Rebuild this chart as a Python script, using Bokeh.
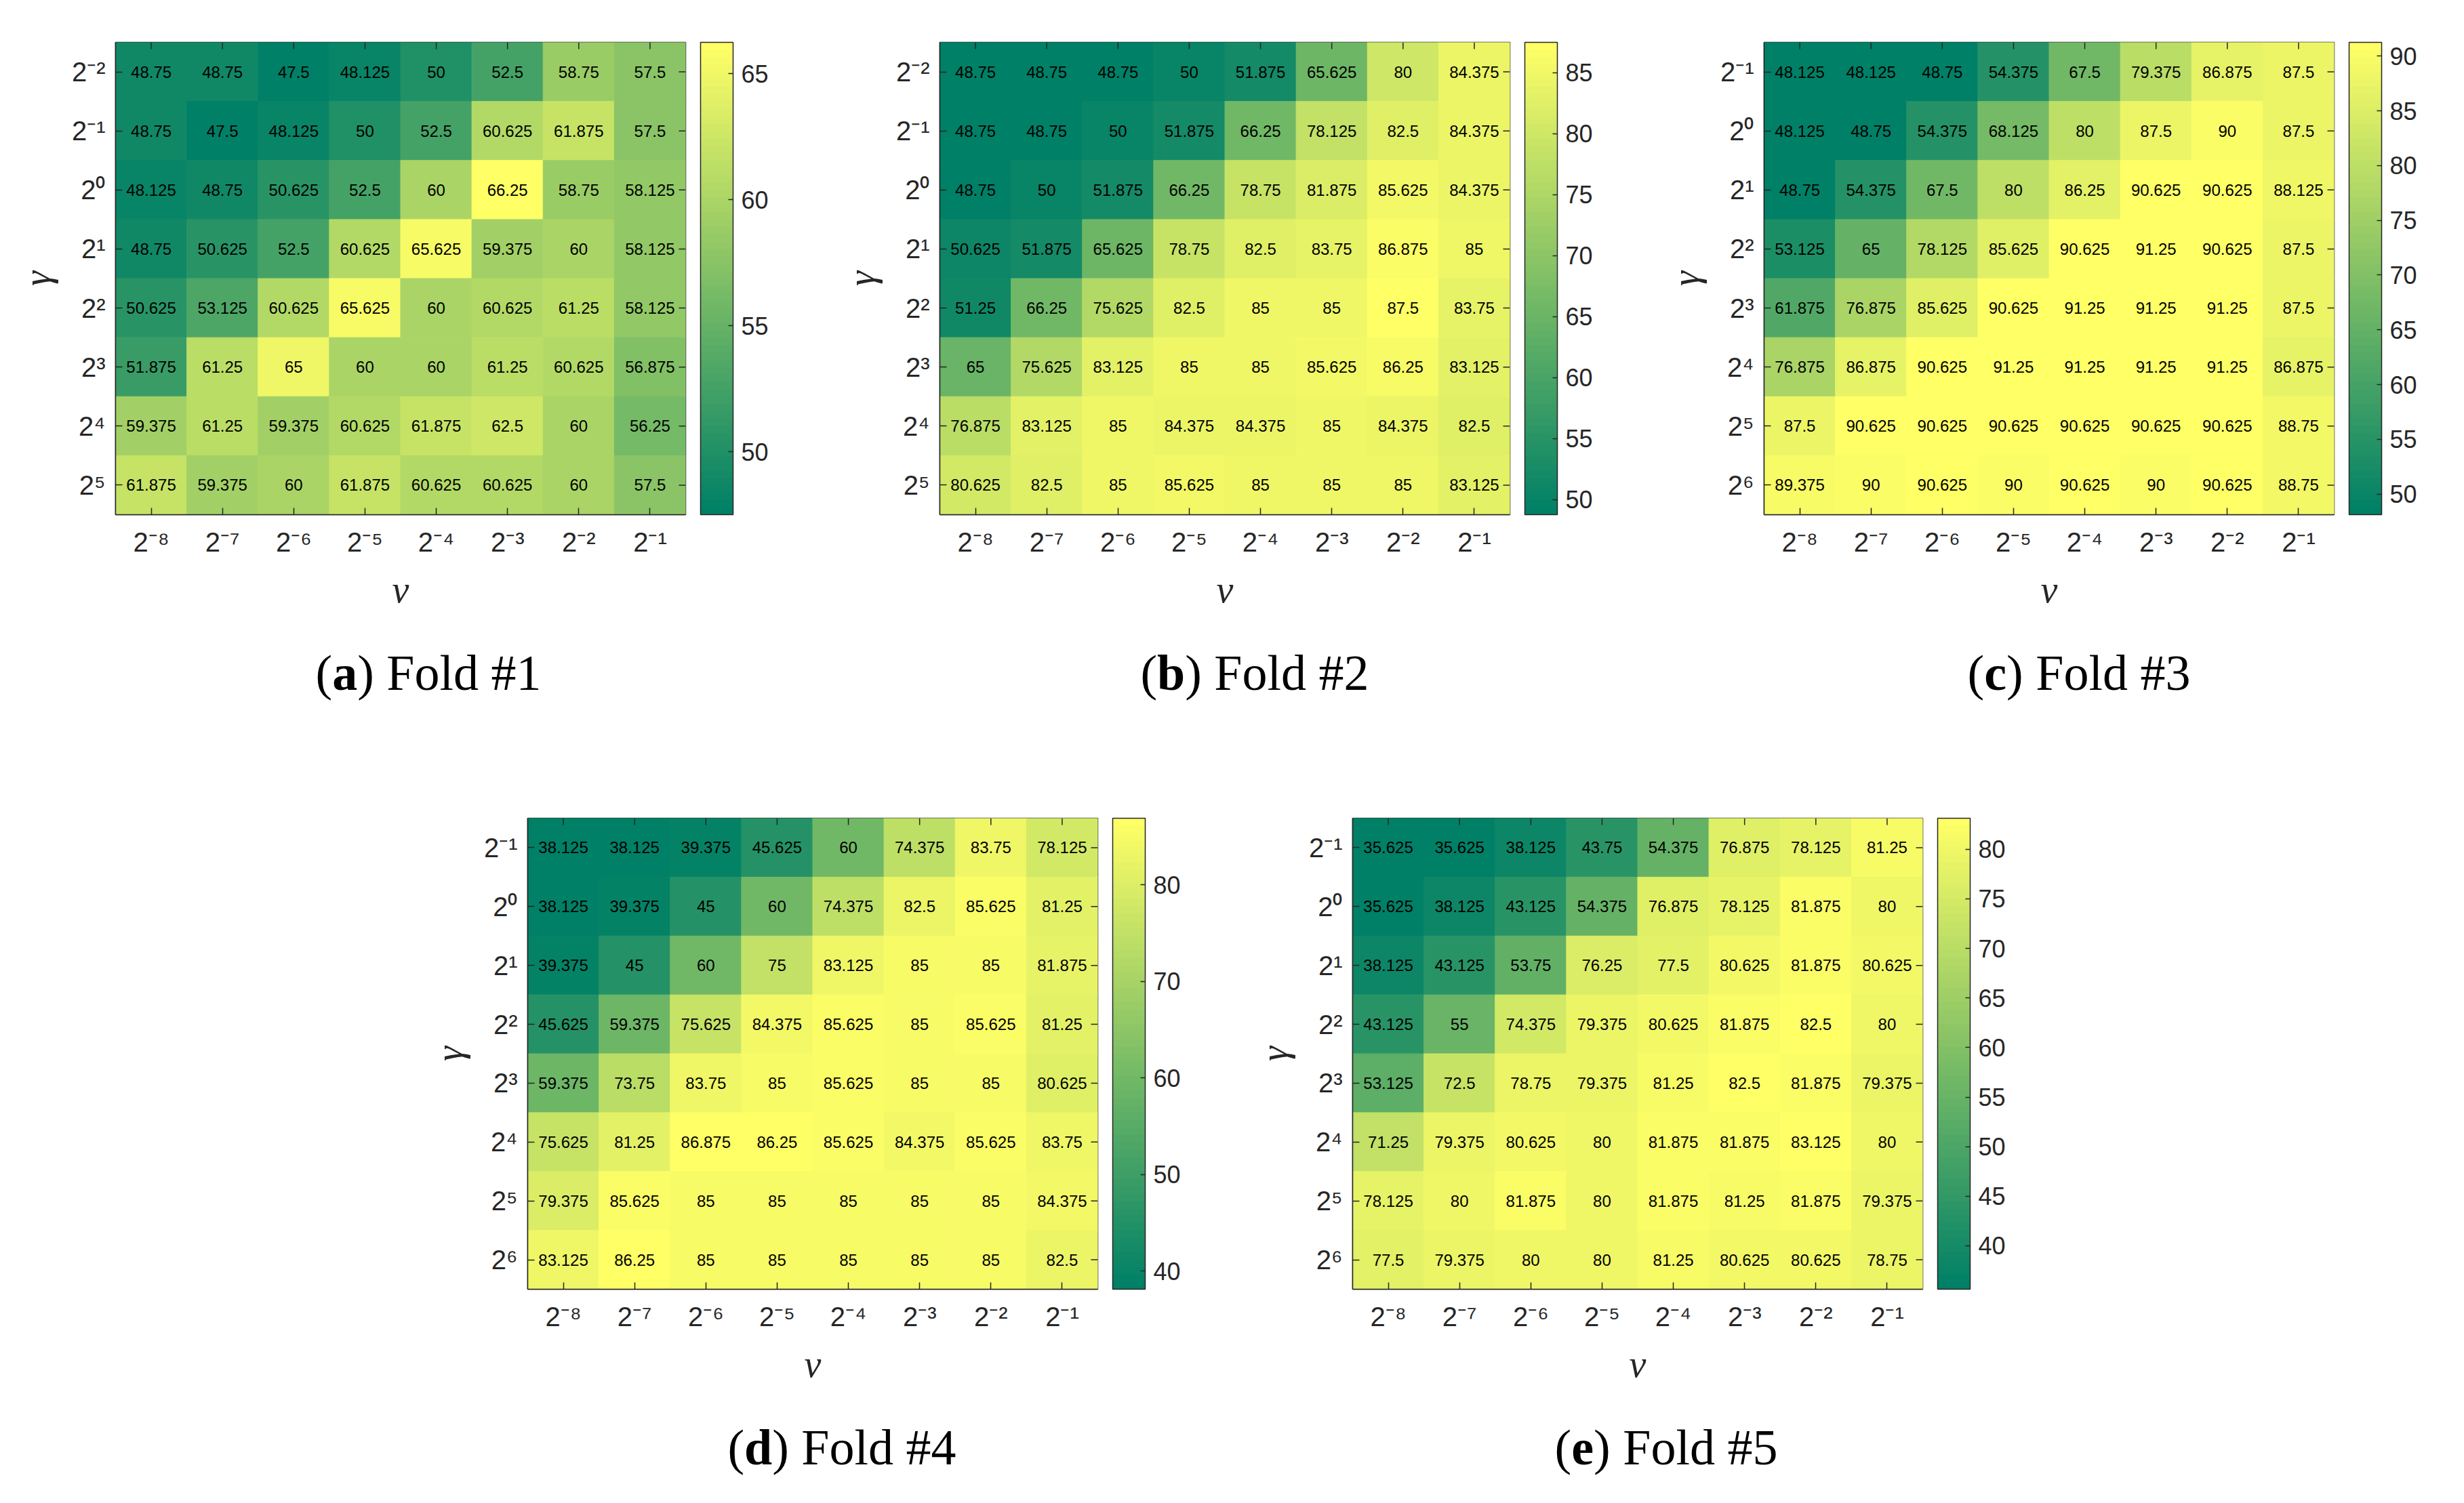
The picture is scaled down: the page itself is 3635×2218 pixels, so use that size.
import numpy as np
from bokeh.plotting import figure
from bokeh.models import (ColumnDataSource, LinearColorMapper, ColorBar, FixedTicker,
                          Div, Spacer)
from bokeh.layouts import column, row
from bokeh.embed import file_html
from bokeh.resources import INLINE
from bokeh.core.properties import value

# ---------------- data ----------------
nu_labels = ["2⁻⁸", "2⁻⁷", "2⁻⁶", "2⁻⁵", "2⁻⁴", "2⁻³", "2⁻²", "2⁻¹"]
gamma_labels_ab = ["2⁻²", "2⁻¹", "2⁰", "2¹", "2²", "2³", "2⁴", "2⁵"]
gamma_labels_cde = ["2⁻¹", "2⁰", "2¹", "2²", "2³", "2⁴", "2⁵", "2⁶"]

fold1 = [
    [48.75, 48.75, 47.5, 48.125, 50, 52.5, 58.75, 57.5],
    [48.75, 47.5, 48.125, 50, 52.5, 60.625, 61.875, 57.5],
    [48.125, 48.75, 50.625, 52.5, 60, 66.25, 58.75, 58.125],
    [48.75, 50.625, 52.5, 60.625, 65.625, 59.375, 60, 58.125],
    [50.625, 53.125, 60.625, 65.625, 60, 60.625, 61.25, 58.125],
    [51.875, 61.25, 65, 60, 60, 61.25, 60.625, 56.875],
    [59.375, 61.25, 59.375, 60.625, 61.875, 62.5, 60, 56.25],
    [61.875, 59.375, 60, 61.875, 60.625, 60.625, 60, 57.5],
]
fold2 = [
    [48.75, 48.75, 48.75, 50, 51.875, 65.625, 80, 84.375],
    [48.75, 48.75, 50, 51.875, 66.25, 78.125, 82.5, 84.375],
    [48.75, 50, 51.875, 66.25, 78.75, 81.875, 85.625, 84.375],
    [50.625, 51.875, 65.625, 78.75, 82.5, 83.75, 86.875, 85],
    [51.25, 66.25, 75.625, 82.5, 85, 85, 87.5, 83.75],
    [65, 75.625, 83.125, 85, 85, 85.625, 86.25, 83.125],
    [76.875, 83.125, 85, 84.375, 84.375, 85, 84.375, 82.5],
    [80.625, 82.5, 85, 85.625, 85, 85, 85, 83.125],
]
fold3 = [
    [48.125, 48.125, 48.75, 54.375, 67.5, 79.375, 86.875, 87.5],
    [48.125, 48.75, 54.375, 68.125, 80, 87.5, 90, 87.5],
    [48.75, 54.375, 67.5, 80, 86.25, 90.625, 90.625, 88.125],
    [53.125, 65, 78.125, 85.625, 90.625, 91.25, 90.625, 87.5],
    [61.875, 76.875, 85.625, 90.625, 91.25, 91.25, 91.25, 87.5],
    [76.875, 86.875, 90.625, 91.25, 91.25, 91.25, 91.25, 86.875],
    [87.5, 90.625, 90.625, 90.625, 90.625, 90.625, 90.625, 88.75],
    [89.375, 90, 90.625, 90, 90.625, 90, 90.625, 88.75],
]
fold4 = [
    [38.125, 38.125, 39.375, 45.625, 60, 74.375, 83.75, 78.125],
    [38.125, 39.375, 45, 60, 74.375, 82.5, 85.625, 81.25],
    [39.375, 45, 60, 75, 83.125, 85, 85, 81.875],
    [45.625, 59.375, 75.625, 84.375, 85.625, 85, 85.625, 81.25],
    [59.375, 73.75, 83.75, 85, 85.625, 85, 85, 80.625],
    [75.625, 81.25, 86.875, 86.25, 85.625, 84.375, 85.625, 83.75],
    [79.375, 85.625, 85, 85, 85, 85, 85, 84.375],
    [83.125, 86.25, 85, 85, 85, 85, 85, 82.5],
]
fold5 = [
    [35.625, 35.625, 38.125, 43.75, 54.375, 76.875, 78.125, 81.25],
    [35.625, 38.125, 43.125, 54.375, 76.875, 78.125, 81.875, 80],
    [38.125, 43.125, 53.75, 76.25, 77.5, 80.625, 81.875, 80.625],
    [43.125, 55, 74.375, 79.375, 80.625, 81.875, 82.5, 80],
    [53.125, 72.5, 78.75, 79.375, 81.25, 82.5, 81.875, 79.375],
    [71.25, 79.375, 80.625, 80, 81.875, 81.875, 83.125, 80],
    [78.125, 80, 81.875, 80, 81.875, 81.25, 81.875, 79.375],
    [77.5, 79.375, 80, 80, 81.25, 80.625, 80.625, 78.75],
]
cbar_ticks_1 = [50, 55, 60, 65]
cbar_ticks_2 = [50, 55, 60, 65, 70, 75, 80, 85]
cbar_ticks_3 = [50, 55, 60, 65, 70, 75, 80, 85, 90]
cbar_ticks_4 = [40, 50, 60, 70, 80]
cbar_ticks_5 = [40, 45, 50, 55, 60, 65, 70, 75, 80]
caption_tags = ["a", "b", "c", "d", "e"]
caption_texts = ["Fold #1", "Fold #2", "Fold #3", "Fold #4", "Fold #5"]

# ---------------- style ----------------
SANS = "Liberation Sans"
SERIF = "Liberation Serif"
INK = "#262626"
FRAME_W = 841
TICK_LEN = 10
CBAR_GAP = 22


def summer_palette(n=64):
    out = []
    for k in range(n):
        r = k / (n - 1)
        out.append("#%02x%02x%02x" % (round(255 * r), round(255 * (0.5 + 0.5 * r)), round(255 * 0.4)))
    return out


PAL = summer_palette(64)


def make_panel(data, ylabels, ticks, frame_h, border_right):
    xf = list(nu_labels)
    yf = list(ylabels)
    xs, ys, vs, ts = [], [], [], []
    for i, r in enumerate(data):
        for j, v in enumerate(r):
            xs.append(xf[j]); ys.append(yf[i]); vs.append(v); ts.append(f"{v:g}")
    src = ColumnDataSource(dict(x=xs, y=ys, v=vs, t=ts))
    mapper = LinearColorMapper(palette=PAL, low=min(vs), high=max(vs))
    p = figure(x_range=xf, y_range=yf[::-1], frame_width=FRAME_W, frame_height=frame_h,
               min_border_left=162, min_border_right=border_right, min_border_top=54,
               min_border_bottom=171, output_backend="svg", toolbar_location=None, tools="")
    p.rect(x="x", y="y", width=1, height=1, source=src,
           fill_color={"field": "v", "transform": mapper},
           line_color={"field": "v", "transform": mapper}, line_width=1)
    p.text(x="x", y="y", text="t", source=src, text_align="center", text_baseline="middle",
           text_font=value(SANS), text_font_size="24px", text_color="black")

    # inward ticks on the top and right edges of the box
    cw = FRAME_W / len(xf)
    ch = frame_h / len(yf)
    top = yf[0]
    rgt = xf[-1]
    tk = dict(
        x0=[[f, 0.0] for f in xf] + [[rgt, 0.5] for _ in yf],
        x1=[[f, 0.0] for f in xf] + [[rgt, 0.5 - TICK_LEN / cw] for _ in yf],
        y0=[[top, 0.5] for _ in xf] + [[f, 0.0] for f in yf],
        y1=[[top, 0.5 - TICK_LEN / ch] for _ in xf] + [[f, 0.0] for f in yf],
    )
    p.segment(x0="x0", y0="y0", x1="x1", y1="y1", source=ColumnDataSource(tk),
              line_color=INK, line_width=1.5)

    p.grid.visible = False
    p.outline_line_color = INK
    p.outline_line_width = 1.5
    for ax in (p.xaxis[0], p.yaxis[0]):
        ax.major_label_text_font = SANS
        ax.major_label_text_font_size = "40px"
        ax.major_label_text_color = INK
        ax.major_tick_in = TICK_LEN
        ax.major_tick_out = 0
        ax.major_tick_line_color = INK
        ax.major_tick_line_width = 1.5
        ax.axis_line_color = INK
        ax.axis_line_width = 1.5
        ax.axis_label_text_font = SERIF
        ax.axis_label_text_font_style = "italic"
        ax.axis_label_text_font_size = "56px"
        ax.axis_label_text_color = INK
    p.xaxis.major_label_standoff = 18
    p.yaxis.major_label_standoff = 15
    p.xaxis.axis_label = "ν"
    p.yaxis.axis_label = "γ"
    p.xaxis.axis_label_standoff = 14
    p.yaxis.axis_label_standoff = 17

    # transparent, label-less strip that keeps a gap between the box and the colour bar
    gap = ColorBar(color_mapper=mapper, ticker=FixedTicker(ticks=[]), width=CBAR_GAP,
                   height=frame_h, padding=0, label_standoff=0, scale_alpha=0.0,
                   major_tick_line_color=None, minor_tick_line_color=None, major_tick_out=0,
                   major_tick_in=0, bar_line_color=None, background_fill_color=None,
                   border_line_color=None)
    p.add_layout(gap, "right")

    cb = ColorBar(color_mapper=mapper, ticker=FixedTicker(ticks=ticks), width=48, height=frame_h,
                  padding=0, label_standoff=12,
                  major_label_text_font=SANS, major_label_text_font_size="36px",
                  major_label_text_color=INK, major_tick_line_color=INK, major_tick_line_width=1.5,
                  major_tick_in=7, major_tick_out=0, bar_line_color=INK, bar_line_width=1.5,
                  background_fill_color=None, border_line_color=None)
    p.add_layout(cb, "right")
    return p


def caption(i, w, h, pad_left, pad_top):
    html = (f'<div style="width:{w}px;box-sizing:border-box;font-family:\'{SERIF}\';font-size:74px;'
            f'line-height:1;text-align:center;padding-left:{pad_left}px;padding-top:{pad_top}px;'
            f'color:#000;white-space:nowrap;">'
            f'(<b>{caption_tags[i]}</b>) {caption_texts[i]}</div>')
    return Div(text=html, width=w, height=h, margin=0)


pa = make_panel(fold1, gamma_labels_ab, cbar_ticks_1, 697, 213)
pb = make_panel(fold2, gamma_labels_ab, cbar_ticks_2, 697, 213)
pc = make_panel(fold3, gamma_labels_cde, cbar_ticks_3, 697, 180)
pd = make_panel(fold4, gamma_labels_cde, cbar_ticks_4, 695, 214)
pe = make_panel(fold5, gamma_labels_cde, cbar_ticks_5, 695, 213)

layout = column(
    Spacer(height=8),
    row(Spacer(width=8), pa, pb, pc),
    row(Spacer(width=8), caption(0, 1216, 223, 32, 26), caption(1, 1216, 223, 38, 26),
        caption(2, 1183, 223, 71, 26)),
    row(Spacer(width=616), pd, pe),
    row(Spacer(width=616), caption(3, 1217, 120, 35, 26), caption(4, 1216, 120, 34, 26)),
)

open("out.html", "w").write(file_html(layout, INLINE, title="Fold heatmaps"))
